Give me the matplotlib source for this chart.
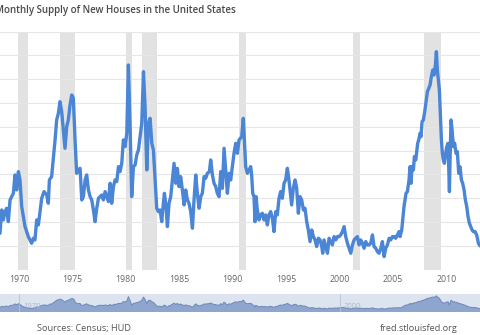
import matplotlib
matplotlib.use("Agg")
import matplotlib.pyplot as plt

plt.rcParams['font.family'] = ['Open Sans', 'DejaVu Sans']

# monthly supply of new houses (months)
years = [1968.10, 1968.23, 1968.39, 1968.54, 1968.70, 1968.85, 1969.01, 1969.17, 1969.32, 1969.48,
         1969.63, 1969.79, 1969.95, 1970.10, 1970.26, 1970.57, 1970.88, 1971.19, 1971.35, 1971.50,
         1971.66, 1971.82, 1972.13, 1972.35, 1972.60, 1972.75, 1972.85, 1973.06, 1973.22, 1973.38,
         1973.53, 1973.69, 1973.84, 1974.00, 1974.16, 1974.31, 1974.47, 1974.62, 1974.78, 1974.94,
         1975.09, 1975.25, 1975.40, 1975.56, 1975.72, 1975.81, 1975.88, 1976.03, 1976.19, 1976.34,
         1976.50, 1976.66, 1976.81, 1976.97, 1977.12, 1977.28, 1977.44, 1977.59, 1977.75, 1977.90,
         1978.06, 1978.22, 1978.37, 1978.53, 1978.68, 1978.84, 1978.99, 1979.15, 1979.31, 1979.46,
         1979.62, 1979.77, 1979.93, 1980.09, 1980.24, 1980.40, 1980.55, 1980.71, 1980.87, 1981.02,
         1981.18, 1981.33, 1981.49, 1981.65, 1981.80, 1981.96, 1982.11, 1982.27, 1982.43, 1982.58,
         1982.74, 1982.89, 1983.05, 1983.20, 1983.36, 1983.51, 1983.61, 1983.76, 1983.89, 1984.04,
         1984.20, 1984.35, 1984.51, 1984.67, 1984.82, 1984.98, 1985.13, 1985.29, 1985.45, 1985.60,
         1985.76, 1985.91, 1986.07, 1986.23, 1986.38, 1986.54, 1986.69, 1986.85, 1987.01, 1987.16,
         1987.32, 1987.47, 1987.63, 1987.82, 1987.94, 1988.10, 1988.25, 1988.41, 1988.56, 1988.72,
         1988.88, 1989.03, 1989.19, 1989.34, 1989.50, 1989.66, 1989.81, 1989.97, 1990.12, 1990.28,
         1990.44, 1990.59, 1990.84, 1990.99, 1991.09, 1991.21, 1991.37, 1991.52, 1991.68, 1991.77,
         1991.87, 1991.99, 1992.08, 1992.18, 1992.30, 1992.46, 1992.61, 1992.77, 1992.93, 1993.08,
         1993.24, 1993.39, 1993.55, 1993.71, 1993.86, 1994.02, 1994.17, 1994.33, 1994.48, 1994.64,
         1994.80, 1994.95, 1995.11, 1995.26, 1995.42, 1995.51, 1995.67, 1995.83, 1995.98, 1996.14,
         1996.29, 1996.45, 1996.61, 1996.76, 1996.92, 1997.07, 1997.23, 1997.39, 1997.54, 1997.70,
         1997.85, 1998.01, 1998.17, 1998.33, 1998.42, 1998.54, 1998.70, 1998.86, 1999.01, 1999.17,
         1999.32, 1999.48, 1999.64, 1999.79, 1999.95, 2000.10, 2000.26, 2000.42, 2000.57, 2000.73,
         2000.88, 2001.04, 2001.20, 2001.35, 2001.51, 2001.66, 2001.82, 2001.97, 2002.13, 2002.29,
         2002.44, 2002.60, 2002.75, 2002.91, 2003.07, 2003.22, 2003.38, 2003.53, 2003.69, 2003.85,
         2004.00, 2004.16, 2004.31, 2004.47, 2004.63, 2004.78, 2004.94, 2005.09, 2005.25, 2005.41,
         2005.56, 2005.65, 2005.81, 2005.90, 2006.02, 2006.12, 2006.21, 2006.34, 2006.49, 2006.59,
         2006.68, 2006.77, 2006.90, 2006.99, 2007.12, 2007.21, 2007.30, 2007.40, 2007.52, 2007.61,
         2007.71, 2007.83, 2007.96, 2008.08, 2008.21, 2008.33, 2008.46, 2008.58, 2008.71, 2008.83,
         2008.96, 2009.05, 2009.14, 2009.24, 2009.33, 2009.42, 2009.52, 2009.61, 2009.70, 2009.80,
         2009.92, 2010.02, 2010.14, 2010.27, 2010.33, 2010.42, 2010.52, 2010.64, 2010.76, 2010.89,
         2011.01, 2011.14, 2011.26, 2011.39, 2011.51, 2011.64, 2011.76, 2011.89, 2012.01, 2012.14,
         2012.26, 2012.39, 2012.51, 2012.67, 2012.82, 2012.98, 2013.13, 2013.25]
supply = [4.6, 4.53, 5.51, 5.09, 5.44, 5.58, 5.02, 5.93, 6.07, 6.21,
          6.98, 6.35, 7.12, 6.77, 5.65, 4.81, 4.39, 4.11, 4.32, 4.25,
          5.09, 4.88, 6.00, 6.28, 6.14, 5.79, 6.77, 6.91, 7.68, 8.45,
          9.29, 9.57, 10.06, 9.64, 8.87, 8.10, 9.01, 9.29, 9.92, 10.34,
          10.20, 8.45, 7.05, 7.19, 7.26, 6.49, 5.93, 6.07, 6.77, 6.98,
          6.35, 6.07, 5.93, 5.51, 5.02, 5.58, 6.00, 6.07, 6.14, 5.93,
          6.28, 6.07, 5.86, 6.63, 5.79, 6.49, 6.77, 6.70, 7.33, 7.12,
          7.47, 8.45, 8.17, 8.73, 11.60, 9.01, 6.07, 7.33, 7.40, 7.82,
          8.03, 8.59, 9.15, 11.32, 9.85, 7.19, 9.15, 9.36, 8.31, 8.03,
          6.77, 5.58, 5.44, 5.51, 5.02, 5.79, 6.21, 5.65, 4.81, 5.79,
          6.07, 6.77, 7.47, 6.63, 7.26, 6.49, 6.91, 6.35, 5.72, 6.35,
          5.93, 5.79, 5.44, 4.74, 5.93, 6.98, 6.21, 5.58, 6.07, 6.21,
          6.91, 6.84, 7.05, 7.12, 7.61, 6.98, 6.63, 6.49, 6.21, 6.07,
          7.12, 6.42, 8.10, 7.19, 6.21, 7.05, 6.77, 7.33, 7.89, 8.31,
          7.89, 8.45, 8.59, 9.36, 8.45, 7.33, 7.05, 7.19, 7.33, 6.98,
          6.21, 6.07, 5.02, 6.07, 5.51, 5.09, 5.30, 5.37, 5.09, 5.30,
          4.88, 5.30, 5.44, 5.16, 4.60, 5.44, 5.30, 6.00, 6.28, 6.00,
          6.63, 6.77, 7.26, 6.77, 6.07, 5.72, 6.42, 6.77, 6.42, 5.37,
          6.07, 5.93, 5.51, 5.58, 5.02, 4.67, 4.18, 4.67, 4.39, 4.25,
          3.97, 4.32, 4.25, 3.97, 3.69, 4.25, 3.97, 3.69, 4.32, 4.18,
          4.04, 4.39, 4.25, 4.39, 4.39, 4.46, 4.60, 4.81, 4.39, 4.11,
          3.90, 3.69, 4.04, 4.25, 4.32, 4.39, 4.04, 4.25, 4.11, 3.90,
          4.18, 4.04, 4.04, 4.11, 4.46, 3.97, 3.90, 3.76, 3.69, 3.90,
          4.18, 3.55, 3.90, 4.04, 4.32, 4.25, 4.39, 4.39, 4.32, 4.46,
          4.60, 4.39, 4.67, 5.09, 5.65, 5.93, 6.21, 6.28, 6.77, 7.33,
          6.63, 7.33, 7.19, 7.75, 7.61, 7.96, 8.31, 8.45, 8.73, 8.59,
          9.22, 9.29, 9.64, 10.06, 10.48, 10.62, 10.76, 11.11, 11.39, 11.18,
          11.60, 12.16, 11.39, 10.97, 10.55, 9.57, 8.45, 7.89, 7.61, 7.47,
          7.89, 8.17, 8.31, 6.28, 7.61, 9.29, 8.87, 8.17, 8.31, 7.89,
          7.96, 7.05, 7.33, 6.77, 6.63, 6.35, 5.93, 5.65, 5.23, 4.95,
          4.81, 4.67, 4.60, 4.60, 4.46, 4.11, 4.00, 4.00]

recessions = [(1969.92, 1970.87), (1973.87, 1975.21), (1980.0, 1980.54),
              (1981.54, 1982.87), (1990.54, 1991.21), (2001.21, 2001.87),
              (2007.92, 2009.46)]
tick_years = [1970, 1975, 1980, 1985, 1990, 1995, 2000, 2005, 2010]
nav_labels = [1970, 2000]

title = 'Monthly Supply of New Houses in the United States'
source = 'Sources: Census; HUD'
site = 'fred.stlouisfed.org'

line_color = '#4a85d6'
x0, x1 = 1968.23, 2013.13

fig = plt.figure(figsize=(4.8, 3.35), dpi=100)

# main chart
ax = fig.add_axes([0, 0.195, 1, 0.7104])
for a, b in recessions:
    ax.axvspan(a, b, color='#e2e2e2', lw=0, zorder=0)
ax.plot(years, supply, color=line_color, lw=2.4, solid_joinstyle='round', zorder=3)
ax.set_xlim(x0, x1)
ax.set_ylim(3, 13)
ax.set_yticks(range(3, 14))
ax.yaxis.grid(True, color='#e6e6e6', lw=0.8)
ax.set_axisbelow(True)
ax.tick_params(axis='y', left=False, labelleft=False)
ax.set_xticks(tick_years)
ax.tick_params(axis='x', length=0, pad=4, labelsize=6.3, labelcolor='#666666')
for s in ax.spines.values():
    s.set_visible(False)

# navigator strip
nav = fig.add_axes([0, 0.0687, 1, 0.0537])
nav.set_facecolor('#dde4f0')
nav.fill_between(years, supply, 0, color='#8ea6cd', lw=0)
nav.plot(years, supply, color='#6c88b8', lw=0.7)
for yr in nav_labels:
    nav.axvline(yr, color='#b4c1d8', lw=0.6)
    nav.text(yr + 0.4, 0.3, str(yr), transform=nav.get_xaxis_transform(),
             fontsize=5.5, color='#a9b6cf', va='center')
nav.set_xlim(x0, x1)
nav.set_ylim(1.8, 13.3)
nav.set_xticks([])
nav.set_yticks([])
for s in nav.spines.values():
    s.set_visible(False)

fig.text(-0.010, 0.970, title, fontsize=7.0, fontweight='semibold',
         color='#4a4a4a', va='center', ha='left')
fig.text(0.077, 0.018, source, fontsize=6.6, color='#555555', va='center')
fig.text(0.953, 0.018, site, fontsize=6.6, color='#555555', va='center', ha='right')

fig.savefig('out.png', dpi=100)
